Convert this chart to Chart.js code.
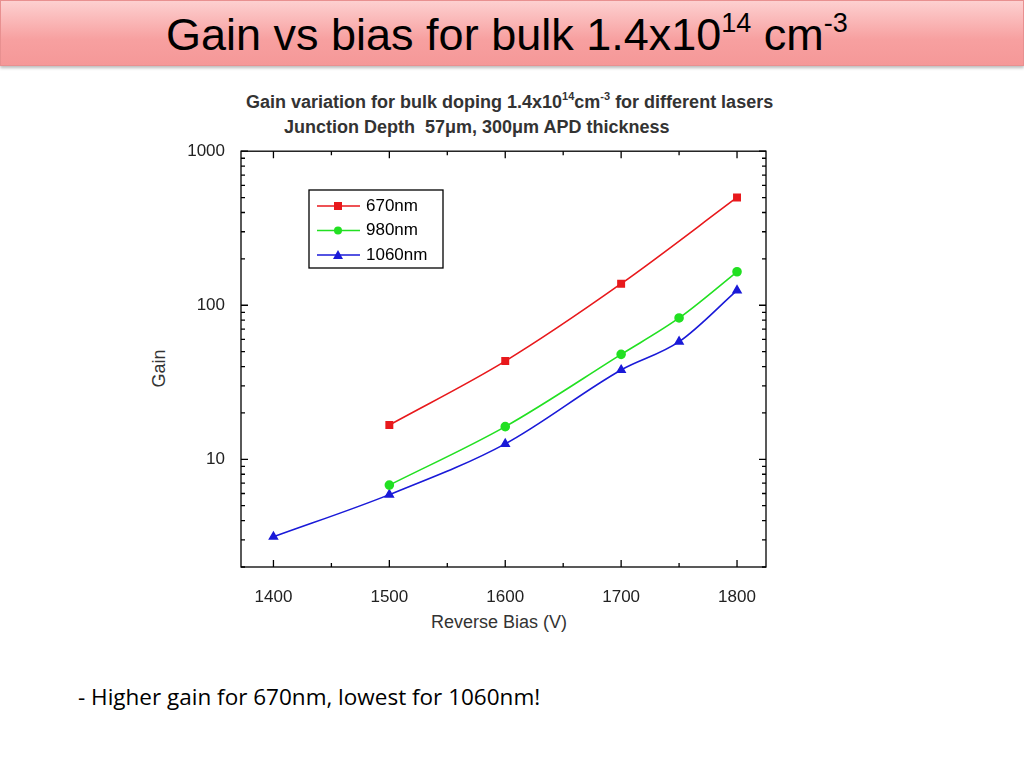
<!DOCTYPE html>
<html><head><meta charset="utf-8">
<script src="https://cdn.jsdelivr.net/npm/chart.js@4/dist/chart.umd.min.js"></script>
<style>
body{margin:0;width:1024px;height:768px;background:#fff;position:relative;overflow:hidden;font-family:"Liberation Sans",Arial,sans-serif}
#banner{position:absolute;left:0;top:0;width:1022px;height:64px;border:1px solid #e89090;background:linear-gradient(#fdd0d0,#f7a0a0 60%,#f59898);box-shadow:0 2px 3px #bbb}
#banner span{position:absolute;left:165px;top:8px;font-size:45px;color:#000;white-space:nowrap}
sup{font-size:27px;vertical-align:18px;line-height:0}
.t{position:absolute;font-weight:bold;color:#333;font-size:18px;white-space:nowrap}
#wrap{position:absolute;left:150px;top:133px;width:630px;height:520px}
</style></head><body>
<div id="banner"><span>Gain vs bias for bulk 1.4x10<sup>14</sup> cm<sup>-3</sup></span></div>
<div class="t" style="left:246px;top:92px">Gain variation for bulk doping 1.4x10<sup style="font-size:11px;vertical-align:8px">14</sup>cm<sup style="font-size:11px;vertical-align:8px">-3</sup> for different lasers</div>
<div class="t" style="left:284px;top:117px">Junction Depth&nbsp; 57&mu;m, 300&mu;m APD thickness</div>
<div class="t" style="left:431px;top:612px;font-weight:normal;font-size:18px">Reverse Bias (V)</div>
<div class="t" style="left:140px;top:358px;font-weight:normal;font-size:18px;transform:rotate(-90deg)">Gain</div>
<div style="position:absolute;left:78px;top:681px;font-family:'Open Sans',sans-serif;font-size:22.5px">- Higher gain for 670nm, lowest for 1060nm!</div>
<div id="wrap"><canvas id="c"></canvas></div>
<script>
const x670=[1500,1600,1700,1800], y670=[16.7,43.4,138,501];
const x980=[1500,1600,1700,1750,1800], y980=[6.8,16.3,48,82.7,165];
const x1060=[1400,1500,1600,1700,1750,1800], y1060=[3.14,5.9,12.6,38,58,125];
const xTicks=[1400,1500,1600,1700,1800];
const labels=['670nm','980nm','1060nm'];
const colors=['#e8191c','#22e022','#1a1ad8'];
const styles=['rect','circle','triangle'];
function pts(xs,ys){return xs.map((x,i)=>({x:x,y:ys[i]}));}
const ticksPlugin={id:'tk',afterDraw(ch){
 const c=ch.ctx,a=ch.chartArea,xs=ch.scales.x,ys=ch.scales.y;c.save();c.strokeStyle='#000';c.lineWidth=1.3;
 c.strokeRect(a.left,a.top,a.right-a.left,a.bottom-a.top);
 c.beginPath();
 for(let v=1400;v<=1800;v+=50){const p=xs.getPixelForValue(v),L=v%100?4:7;c.moveTo(p,a.bottom);c.lineTo(p,a.bottom-L);c.moveTo(p,a.top);c.lineTo(p,a.top+L);}
 for(let d=1;d<=1000;d*=10)for(let k=1;k<10;k++){const v=d*k;if(v<2||v>1000)continue;const p=ys.getPixelForValue(v),L=k==1?7:4;c.moveTo(a.left,p);c.lineTo(a.left+L,p);c.moveTo(a.right,p);c.lineTo(a.right-L,p);}
 c.stroke();
 c.strokeRect(159,57,134,78);
 c.font='17px "Liberation Sans",Arial';c.textBaseline='middle';
 labels.forEach((l,i)=>{const y=73+i*24.5;c.strokeStyle=colors[i];c.lineWidth=1.5;c.beginPath();c.moveTo(167,y);c.lineTo(210,y);c.stroke();
  c.fillStyle=colors[i];c.beginPath();
  if(i==0)c.rect(184,y-4,8,8);else if(i==1)c.arc(188,y,4,0,7);else{c.moveTo(188,y-5);c.lineTo(193,y+4);c.lineTo(183,y+4);c.closePath();}
  c.fill();c.fillStyle='#000';c.fillText(l,216,y);});
 c.restore();}};
new Chart(document.getElementById('c'),{type:'line',
 data:{datasets:[0,1,2].map(i=>({label:labels[i],data:pts([x670,x980,x1060][i],[y670,y980,y1060][i]),borderColor:colors[i],backgroundColor:colors[i],pointStyle:styles[i],pointRadius:i==1?4:4.5,borderWidth:1.6,cubicInterpolationMode:'monotone'}))},
 options:{responsive:true,maintainAspectRatio:false,animation:false,layout:{padding:{top:2,right:14}},
  plugins:{legend:{display:false},tooltip:{enabled:false}},
  scales:{
   x:{type:'linear',min:1372,max:1825,grid:{display:false},border:{display:false},
      afterBuildTicks:s=>{s.ticks=xTicks.map(v=>({value:v}));},afterFit:s=>{s.height=86;},
      ticks:{color:'#222',font:{size:17},padding:12,callback:v=>String(v)}},
   y:{type:'logarithmic',min:2,max:1000,grid:{display:false},border:{display:false},
      afterBuildTicks:s=>{s.ticks=[10,100,1000].map(v=>({value:v}));},afterFit:s=>{s.width=91;},
      ticks:{color:'#222',font:{size:17},padding:8,callback:v=>String(v)}}}},
 plugins:[ticksPlugin]});
</script></body></html>
